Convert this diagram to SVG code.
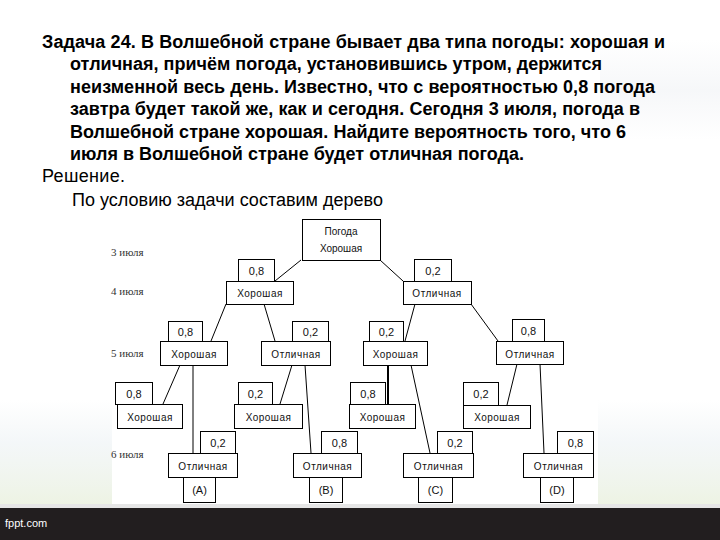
<svg xmlns="http://www.w3.org/2000/svg" width="720" height="540" viewBox="0 0 720 540">
<defs>
<linearGradient id="gl" x1="0" y1="0" x2="0" y2="1">
<stop offset="0" stop-color="#f1f5f7" stop-opacity="0"/>
<stop offset="0.4" stop-color="#f1f5f7" stop-opacity="0.8"/>
<stop offset="1" stop-color="#edf3e3" stop-opacity="1"/>
</linearGradient>
<linearGradient id="gt" x1="0" y1="0" x2="0" y2="1">
<stop offset="0" stop-color="#f0f2f5" stop-opacity="0"/>
<stop offset="0.5" stop-color="#f0f2f5" stop-opacity="0.6"/>
<stop offset="1" stop-color="#f0f2f5" stop-opacity="0"/>
</linearGradient>
<style>
.t{font-family:"Liberation Sans",Arial,sans-serif;font-size:18px;fill:#000}
.b{font-weight:bold}
.d{font-family:"Liberation Serif","Times New Roman",serif;font-size:11px;fill:#333}
.n rect{fill:#fff;stroke:#000;stroke-width:1}
.n text{font-family:"Liberation Sans",Arial,sans-serif;font-size:10px;fill:#111;text-anchor:middle;letter-spacing:0.5px}
.p{font-size:11px!important;letter-spacing:0!important}
.c line{stroke:#000;stroke-width:1}
</style>
</defs>
<rect x="0" y="0" width="720" height="540" fill="#fff"/>
<rect x="0" y="400" width="112" height="106" fill="url(#gl)"/>
<rect x="598" y="400" width="122" height="106" fill="url(#gl)"/>
<rect x="600" y="40" width="120" height="100" fill="url(#gt)"/>
<rect x="0" y="504" width="720" height="4" fill="#e6e6e6"/>
<rect x="0" y="508" width="720" height="32" fill="#221e1f"/>
<text x="5" y="527" font-family="'Liberation Sans Narrow','Liberation Sans',Arial,sans-serif" font-size="11" fill="#fff">fppt.com</text>

<g id="problem-text">
<text class="t b" x="42" y="48" textLength="623">Задача 24. В Волшебной стране бывает два типа погоды: хорошая и</text>
<text class="t b" x="70" y="70" textLength="532">отличная, причём погода, установившись утром, держится</text>
<text class="t b" x="70" y="93" textLength="585">неизменной весь день. Известно, что с вероятностью 0,8 погода</text>
<text class="t b" x="70" y="115" textLength="570">завтра будет такой же, как и сегодня. Сегодня 3 июля, погода в</text>
<text class="t b" x="70" y="138" textLength="556">Волшебной стране хорошая. Найдите вероятность того, что 6</text>
<text class="t b" x="70" y="160" textLength="454">июля в Волшебной стране будет отличная погода.</text>
<text class="t" x="42" y="182" textLength="83">Решение.</text>
<text class="t" x="72" y="206" textLength="311">По условию задачи составим дерево</text>
</g>

<g id="day-labels">
<text class="d" x="111" y="256">3 июля</text>
<text class="d" x="111" y="295">4 июля</text>
<text class="d" x="111" y="357">5 июля</text>
<text class="d" x="111" y="458">6 июля</text>
</g>

<g class="c" id="connectors">
<line x1="301" y1="260" x2="275" y2="281"/>
<line x1="380" y1="260" x2="403" y2="281"/>
<line x1="226" y1="304" x2="211" y2="341"/>
<line x1="264" y1="304" x2="275" y2="341"/>
<line x1="415" y1="304" x2="405" y2="341"/>
<line x1="471" y1="304" x2="498" y2="341"/>
<line x1="180" y1="365" x2="163" y2="404"/>
<line x1="193" y1="365" x2="193" y2="453"/>
<line x1="292" y1="365" x2="280" y2="404"/>
<line x1="305" y1="365" x2="311" y2="453"/>
<line x1="388" y1="365" x2="388" y2="404" style="stroke-width:2"/>
<line x1="411" y1="365" x2="430" y2="453"/>
<line x1="517" y1="364" x2="507" y2="405"/>
<line x1="540" y1="364" x2="544" y2="453"/>
</g>

<g class="n" id="root">
<rect x="302.5" y="219.5" width="78" height="41"/>
<text x="341" y="235" style="letter-spacing:0">Погода</text>
<text x="341" y="252" style="letter-spacing:0">Хорошая</text>
</g>

<g class="n" id="p4a"><rect x="238.5" y="259.5" width="36" height="22"/><text class="p" x="256.5" y="275">0,8</text></g>
<g class="n" id="n4a"><rect x="226.5" y="281.5" width="67" height="23"/><text x="260" y="297">Хорошая</text></g>
<g class="n" id="p4b"><rect x="414.5" y="259.5" width="37" height="22"/><text class="p" x="433" y="275">0,2</text></g>
<g class="n" id="n4b"><rect x="403.5" y="281.5" width="68" height="23"/><text x="437" y="297">Отличная</text></g>

<g class="n" id="p5a"><rect x="168.5" y="321.5" width="34" height="20"/><text class="p" x="185.5" y="336">0,8</text></g>
<g class="n" id="n5a"><rect x="160.5" y="341.5" width="67" height="24"/><text x="194" y="358">Хорошая</text></g>
<g class="n" id="p5b"><rect x="292.5" y="321.5" width="36" height="20"/><text class="p" x="310.5" y="336">0,2</text></g>
<g class="n" id="n5b"><rect x="261.5" y="341.5" width="69" height="24"/><text x="296" y="358">Отличная</text></g>
<g class="n" id="p5c"><rect x="369.5" y="321.5" width="34" height="20"/><text class="p" x="386.5" y="336">0,2</text></g>
<g class="n" id="n5c"><rect x="363.5" y="341.5" width="64" height="24"/><text x="395.5" y="358">Хорошая</text></g>
<g class="n" id="p5d"><rect x="512.5" y="319.5" width="32" height="22"/><text class="p" x="528.5" y="335">0,8</text></g>
<g class="n" id="n5d"><rect x="496.5" y="341.5" width="67" height="23"/><text x="530" y="358">Отличная</text></g>

<g class="n" id="p6a"><rect x="115.5" y="382.5" width="37" height="22"/><text class="p" x="134" y="398">0,8</text></g>
<g class="n" id="n6a"><rect x="117.5" y="404.5" width="65" height="24"/><text x="150" y="421">Хорошая</text></g>
<g class="n" id="p6b"><rect x="238.5" y="382.5" width="34" height="22"/><text class="p" x="255.5" y="398">0,2</text></g>
<g class="n" id="n6b"><rect x="234.5" y="404.5" width="68" height="24"/><text x="268.5" y="421">Хорошая</text></g>
<g class="n" id="p6c"><rect x="350.5" y="382.5" width="35" height="22"/><text class="p" x="368" y="398">0,8</text></g>
<g class="n" id="n6c"><rect x="349.5" y="404.5" width="66" height="24"/><text x="382.5" y="421">Хорошая</text></g>
<g class="n" id="p6d"><rect x="463.5" y="382.5" width="35" height="23"/><text class="p" x="481" y="398">0,2</text></g>
<g class="n" id="n6d"><rect x="463.5" y="405.5" width="67" height="23"/><text x="497" y="421">Хорошая</text></g>

<g class="n" id="p6A"><rect x="200.5" y="431.5" width="35" height="22"/><text class="p" x="218" y="447">0,2</text></g>
<g class="n" id="n6A"><rect x="168.5" y="453.5" width="69" height="24"/><text x="203" y="470">Отличная</text></g>
<g class="n" id="lA"><rect x="183.5" y="477.5" width="32" height="25"/><text class="p" x="199.5" y="494">(A)</text></g>

<g class="n" id="p6B"><rect x="321.5" y="431.5" width="36" height="22"/><text class="p" x="339.5" y="447">0,8</text></g>
<g class="n" id="n6B"><rect x="293.5" y="453.5" width="68" height="24"/><text x="327.5" y="470">Отличная</text></g>
<g class="n" id="lB"><rect x="309.5" y="477.5" width="33" height="25"/><text class="p" x="326" y="494">(B)</text></g>

<g class="n" id="p6C"><rect x="437.5" y="431.5" width="35" height="22"/><text class="p" x="455" y="447">0,2</text></g>
<g class="n" id="n6C"><rect x="403.5" y="453.5" width="70" height="24"/><text x="438.5" y="470">Отличная</text></g>
<g class="n" id="lC"><rect x="418.5" y="477.5" width="34" height="25"/><text class="p" x="435.5" y="494">(C)</text></g>

<g class="n" id="p6D"><rect x="557.5" y="431.5" width="36" height="22"/><text class="p" x="575.5" y="447">0,8</text></g>
<g class="n" id="n6D"><rect x="523.5" y="453.5" width="70" height="24"/><text x="558.5" y="470">Отличная</text></g>
<g class="n" id="lD"><rect x="540.5" y="477.5" width="33" height="25"/><text class="p" x="557" y="494">(D)</text></g>
</svg>
